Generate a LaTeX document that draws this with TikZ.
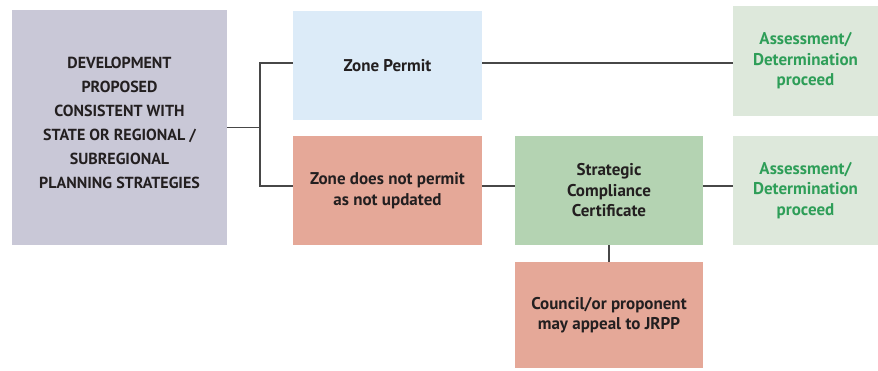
\documentclass[tikz,border=0pt]{standalone}
\usepackage{fontspec}
\setmainfont{PT Sans}
\definecolor{devfill}{HTML}{C9C8D7}
\definecolor{permitfill}{HTML}{DCEBF8}
\definecolor{refusefill}{HTML}{E5A898}
\definecolor{certfill}{HTML}{B4D3B2}
\definecolor{procfill}{HTML}{DDE8DB}
\definecolor{proctext}{HTML}{2E9E58}
\definecolor{ink}{HTML}{231F20}
\definecolor{wire}{HTML}{474747}
\tikzset{
  box/.style={rectangle, inner sep=2pt, align=center, text=ink,
    font=\fontsize{17}{20.5}\selectfont\bfseries},
  procbox/.style={box, fill=procfill, text=proctext, minimum width=145pt, minimum height=110pt},
  wiring/.style={draw=wire, line width=1.6pt}
}
\begin{document}
\begin{tikzpicture}[x=1pt,y=-1pt]
  \useasboundingbox (0,0) rectangle (878,370);
  \node[box, fill=devfill, minimum width=215pt, minimum height=235pt,
        font=\fontsize{16}{24}\selectfont\bfseries] (dev) at (119.5,127.5) {};
  \node[box, font=\fontsize{16}{24}\selectfont\bfseries] (devtext) at (119.5,123)
        {DEVELOPMENT\\PROPOSED\\CONSISTENT WITH\\STATE OR REGIONAL /\\SUBREGIONAL\\PLANNING STRATEGIES};
  \node[box, fill=permitfill, minimum width=189pt, minimum height=109pt] (permit) at (387.5,65.5) {Zone Permit};
  \node[box, fill=refusefill, minimum width=189pt, minimum height=109pt] (nopermit) at (387.5,190.5) {Zone does not permit\\as not updated};
  \node[box, fill=certfill, minimum width=188pt, minimum height=109pt] (cert) at (609,190.5) {Strategic\\Compliance\\Certificate};
  \node[box, fill=refusefill, minimum width=188pt, minimum height=106pt] (appeal) at (609,315) {Council/or proponent\\may appeal to JRPP};
  \node[procbox] (proceedA) at (805.5,61) {Assessment/\\Determination\\proceed};
  \node[procbox, minimum height=109pt] (proceedB) at (805.5,190.5) {Assessment/\\Determination\\proceed};
  \coordinate (fork) at (260,127.5);
  \draw[wiring] (dev.east) -- (fork);
  \draw[wiring] (permit.west |- 0,63) -| (fork) |- (nopermit.west |- 0,186);
  \draw[wiring] (permit.east |- 0,63) -- (proceedA.west |- 0,63);
  \draw[wiring] (nopermit.east |- 0,186) -- (cert.west |- 0,186);
  \draw[wiring] (cert.east |- 0,186) -- (proceedB.west |- 0,186);
  \draw[wiring] (cert.south) -- (appeal.north);
\end{tikzpicture}
\end{document}
